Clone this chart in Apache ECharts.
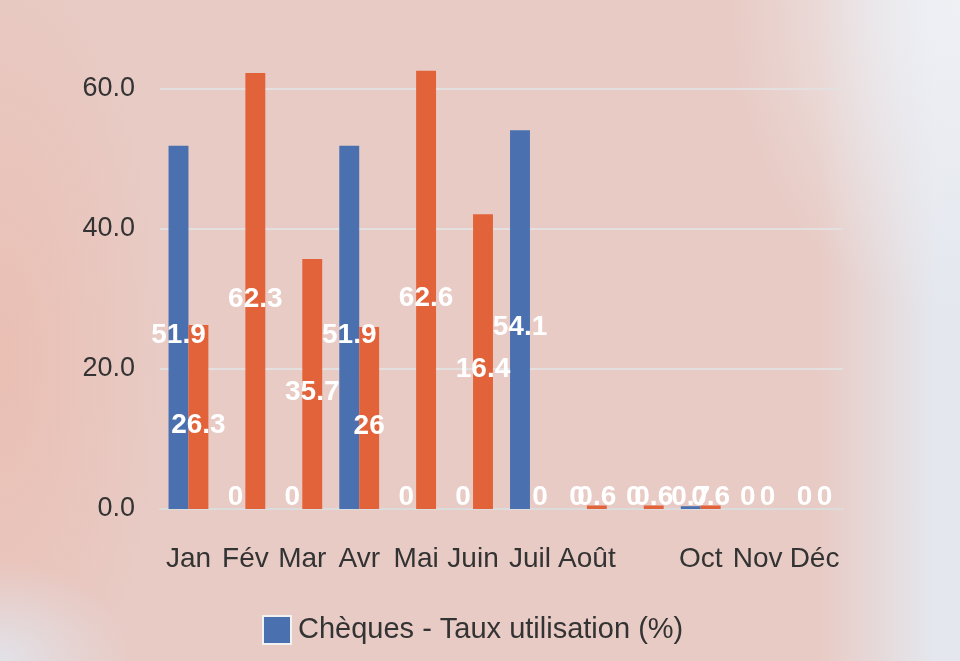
<!DOCTYPE html>
<html>
<head>
<meta charset="utf-8">
<script src="https://cdn.jsdelivr.net/npm/echarts@6/dist/echarts.min.js"></script>
<style>
  html, body { margin: 0; padding: 0; }
  body {
    width: 960px;
    height: 661px;
    overflow: hidden;
    background:
      radial-gradient(ellipse 130px 100px at 0px 661px, rgba(226, 226, 233, 1), rgba(226, 226, 233, 0) 100%),
      radial-gradient(ellipse 230px 320px at 960px 0px, rgba(238, 240, 244, 1), rgba(238, 240, 244, 0) 100%),
      linear-gradient(to right, rgba(228, 231, 238, 0) 820px, rgba(228, 231, 238, 1) 935px),
      radial-gradient(ellipse 160px 420px at 0px 360px, rgba(236, 176, 158, 0.45), rgba(236, 176, 158, 0) 100%),
      #e8cbc5;
  }
  #chart { width: 960px; height: 661px; }
</style>
</head>
<body>
<div id="chart"></div>
<script>
// months, the Sept label is hidden in the original
const months = ['Jan', 'Fév', 'Mar', 'Avr', 'Mai', 'Juin', 'Juil', 'Août', 'Sept', 'Oct', 'Nov', 'Déc']
const cheques = [51.9, 0, 0, 51.9, 0, 0, 54.1, 0, 0, 0.4, 0, 0]
const chequesLabels = [51.9, 0, 0, 51.9, 0, 0, 54.1, 0, 0, 0.7, 0, 0]
const autres = [26.3, 62.3, 35.7, 26, 62.6, 42.1, 0, 0.5, 0.5, 0.5, 0, 0]
// the June bar is taller than the value printed on it
const autresLabels = [26.3, 62.3, 35.7, 26, 62.6, 16.4, 0, 0.6, 0.6, 0.6, 0, 0]
const yTicks = [0, 20, 40, 60]

const chart = echarts.init(document.getElementById('chart'), null, { renderer: 'canvas' })

const font = '"Liberation Sans", Arial, sans-serif'

function barLabel(labels) {
  return {
    show: true,
    position: 'inside',
    color: '#fff',
    fontSize: 28,
    fontWeight: 'bold',
    fontFamily: font,
    formatter: p => String(labels[p.dataIndex])
  }
}

// labels sit a bit under the bar middle, and never drop below the axis
function labelLayout(p) {
  const r = p.rect
  const h = p.labelRect.height
  const y = Math.min(r.y + r.height / 2 + 8, r.y + r.height - h / 2 + 2)
  return { x: r.x + r.width / 2, y: y, align: 'center', verticalAlign: 'middle' }
}

chart.setOption({
  backgroundColor: 'transparent',
  animation: false,
  textStyle: { fontFamily: font },
  grid: {
    left: 160,
    right: 117,
    top: 47,
    bottom: 152
  },
  legend: {
    data: ['Chèques - Taux utilisation (%)'],
    left: 257,
    top: 610,
    itemWidth: 28,
    itemHeight: 28,
    itemGap: 10,
    icon: 'rect',
    itemStyle: { borderColor: '#f2f2f2', borderWidth: 2 },
    textStyle: { fontSize: 29, color: '#333', fontFamily: font, padding: [0, 0, 0, 2] }
  },
  xAxis: {
    type: 'category',
    data: months,
    axisLine: { lineStyle: { color: '#dcdcdc', width: 2 } },
    axisTick: { length: 14, lineStyle: { color: '#dcdcdc', width: 2 } },
    axisLabel: {
      interval: i => i !== 8,
      margin: 36,
      fontSize: 28,
      color: '#333',
      fontFamily: font
    }
  },
  yAxis: {
    type: 'value',
    min: yTicks[0],
    max: 66,
    interval: yTicks[1] - yTicks[0],
    axisLine: { show: false },
    axisTick: { show: false },
    axisLabel: {
      margin: 25,
      fontSize: 27,
      color: '#333',
      fontFamily: font,
      showMaxLabel: false,
      formatter: v => v.toFixed(1)
    },
    splitLine: { showMaxLine: false, lineStyle: { color: '#e4e0e0', width: 2 } }
  },
  series: [
    {
      name: 'Chèques - Taux utilisation (%)',
      type: 'bar',
      data: cheques,
      barGap: 0,
      barCategoryGap: '30%',
      itemStyle: { color: '#4a70b0' },
      label: barLabel(chequesLabels),
      labelLayout: labelLayout
    },
    {
      name: 'Autres - Taux utilisation (%)',
      type: 'bar',
      data: autres,
      itemStyle: { color: '#e2633a' },
      label: barLabel(autresLabels),
      labelLayout: labelLayout
    }
  ]
})
</script>
</body>
</html>
